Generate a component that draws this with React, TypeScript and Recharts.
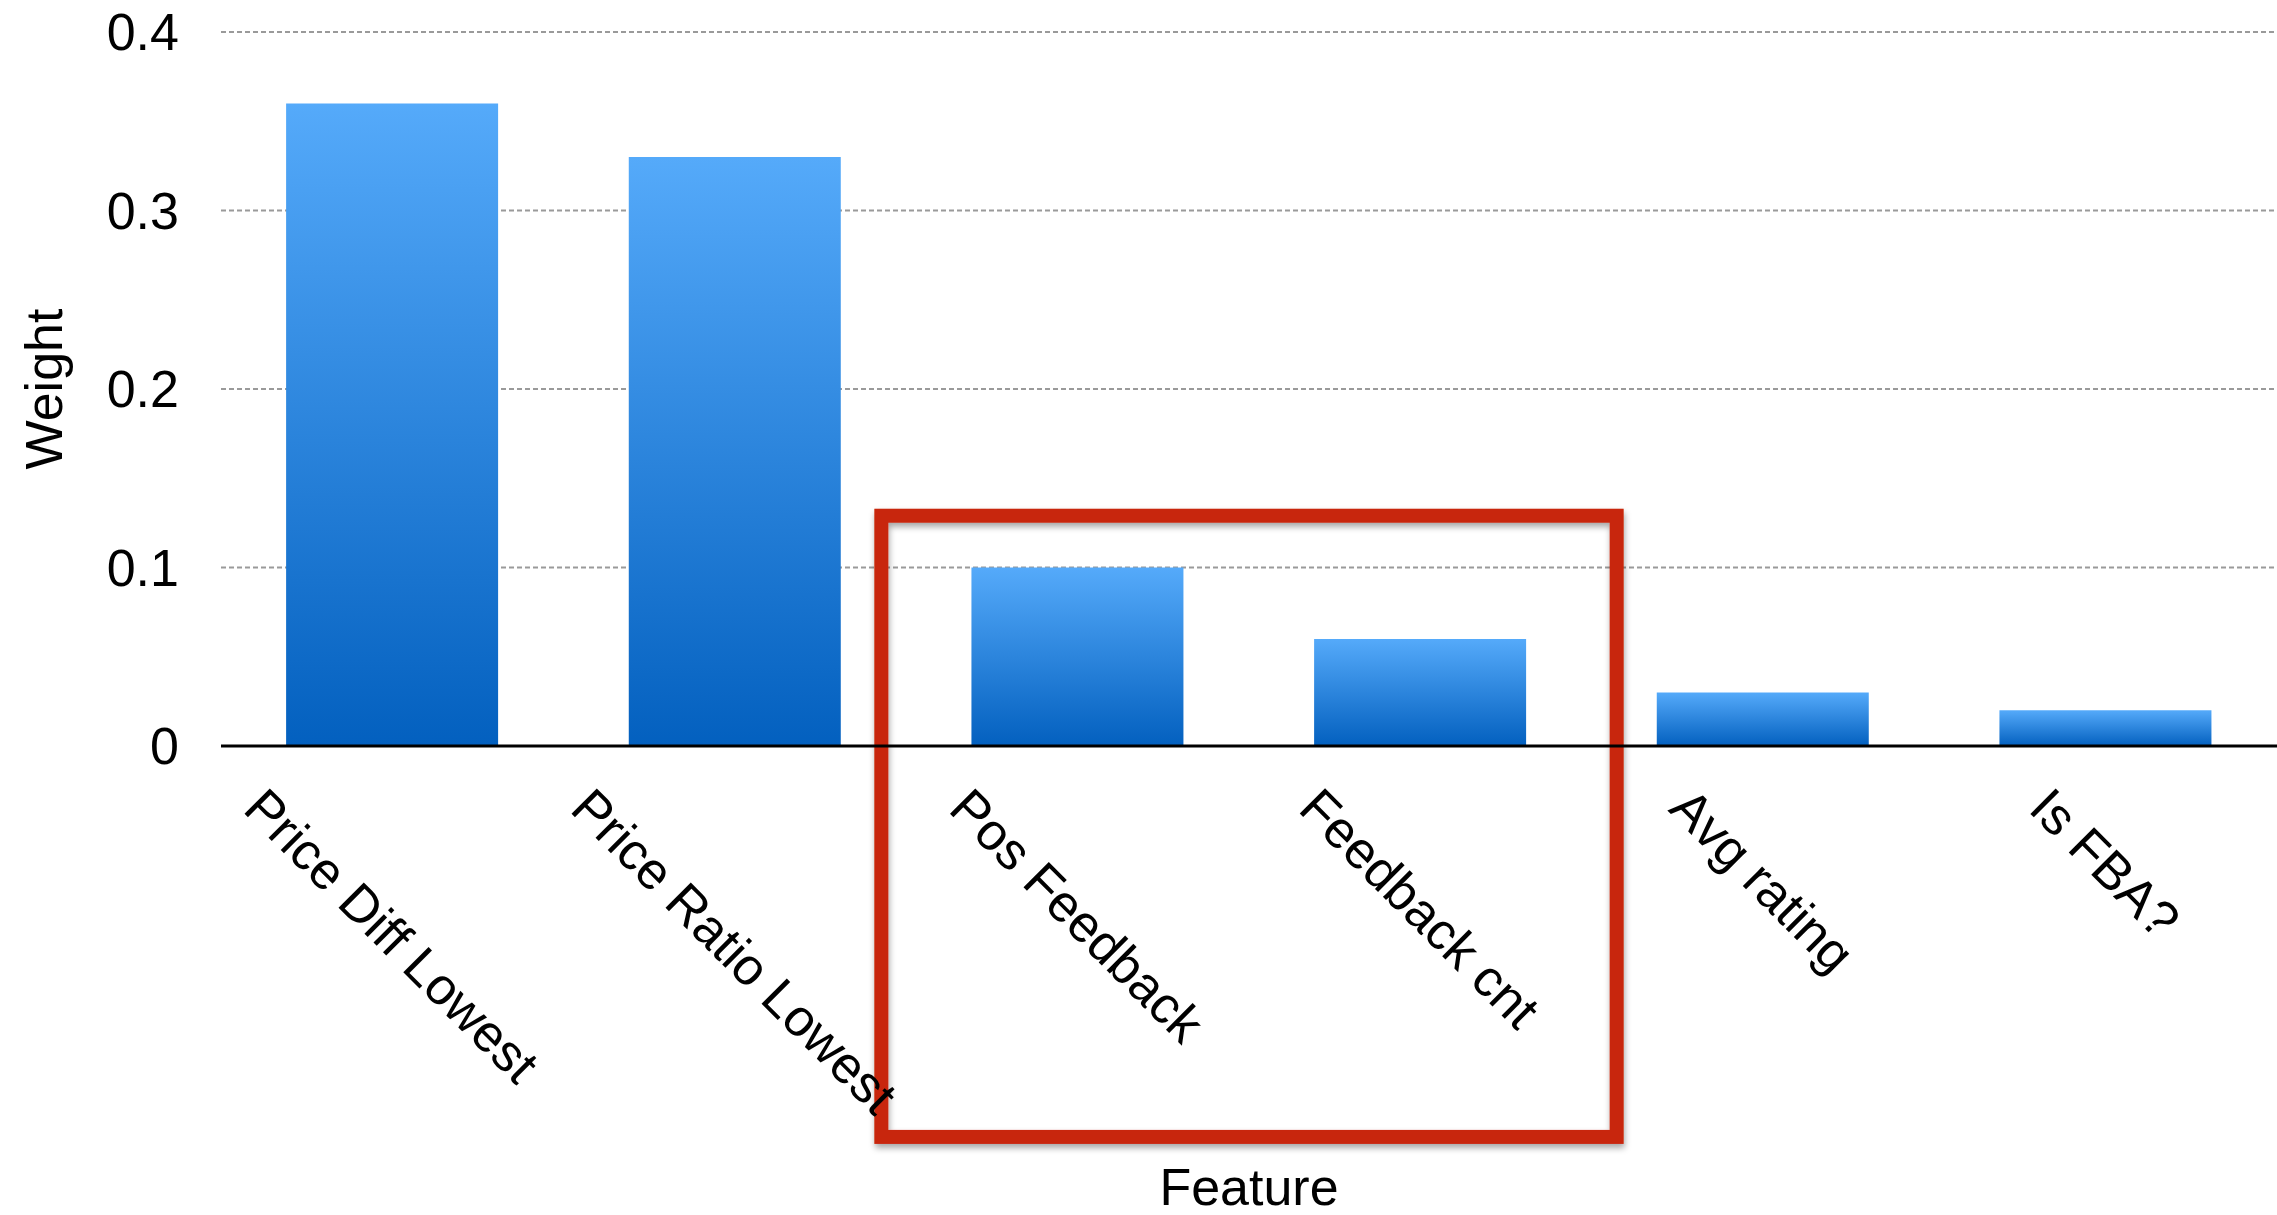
import { BarChart, Bar, XAxis, YAxis, CartesianGrid, ReferenceArea } from "recharts";

const features = ["Price Diff Lowest", "Price Ratio Lowest", "Pos Feedback", "Feedback cnt", "Avg rating", "Is FBA?"];
const weights = [0.36, 0.33, 0.1, 0.06, 0.03, 0.02];
const yTicks = [0, 0.1, 0.2, 0.3, 0.4];
const highlightFeatures = ["Pos Feedback", "Feedback cnt"];
const highlightRange = [-0.219, 0.129];

const data = features.map((feature, i) => ({ feature, weight: weights[i] }));

const FONT = "'Liberation Sans', Arial, Helvetica, sans-serif";
const FS = 52;

let ctx: CanvasRenderingContext2D | null = null;
function textWidth(s: string) {
  if (!ctx) ctx = document.createElement("canvas").getContext("2d");
  if (!ctx) return s.length * FS * 0.5;
  ctx.font = `${FS}px "Liberation Sans", Arial, sans-serif`;
  return ctx.measureText(s).width;
}

// labels run down-right at 45deg, centred on the bar, top edge level
function FeatureTick({ x, y, payload }: any) {
  const label = String(payload.value);
  const len = textWidth(label);
  const cap = FS * 0.72;
  const cy = y + 0.354 * (len + cap);
  return (
    <text x={x} y={cy} dy={cap / 2} textAnchor="middle" transform={`rotate(45, ${x}, ${cy})`}
      fontFamily={FONT} fontSize={FS} fill="#000">{label}</text>
  );
}

function WeightLabel({ viewBox }: any) {
  const vb = viewBox || { x: 0, y: 32, width: 221, height: 714 };
  const x = vb.x + 62;
  const y = vb.y + vb.height / 2;
  return (
    <text x={x} y={y} textAnchor="middle" transform={`rotate(-90, ${x}, ${y})`}
      fontFamily={FONT} fontSize={FS} fill="#000">Weight</text>
  );
}

function FeatureLabel({ viewBox }: any) {
  const vb = viewBox || { x: 221, y: 746, width: 2056, height: 469 };
  return (
    <text x={vb.x + vb.width / 2} y={vb.y + vb.height - 10} textAnchor="middle"
      fontFamily={FONT} fontSize={FS} fill="#000">Feature</text>
  );
}

function HighlightBox({ x, y, width, height }: any) {
  const pad = 25;
  return (
    <rect x={x - pad} y={y} width={width + pad * 2} height={height} fill="none"
      stroke="#C8260A" strokeWidth={14} filter="url(#boxShadow)" />
  );
}

export default function App() {
  return (
    <div style={{ position: "absolute", left: 0, top: 0, background: "#fff" }}>
      <BarChart width={2277} height={1215} data={data} barCategoryGap="19%"
        margin={{ top: 32, right: 0, bottom: 0, left: 0 }}>
        <defs>
          <linearGradient id="barGrad" x1="0" y1="0" x2="0" y2="1">
            <stop offset="0%" stopColor="#55AAFA" />
            <stop offset="100%" stopColor="#0360BF" />
          </linearGradient>
          <filter id="boxShadow" x="-5%" y="-5%" width="110%" height="115%">
            <feDropShadow dx="1" dy="4" stdDeviation="3" floodColor="#000" floodOpacity="0.35" />
          </filter>
        </defs>
        <CartesianGrid vertical={false} stroke="#9a9a9a" strokeDasharray="5 3" strokeWidth={2} />
        <XAxis dataKey="feature" interval={0} tickLine={false} height={469} tickMargin={32}
          axisLine={{ stroke: "#000", strokeWidth: 3 }} tick={<FeatureTick />} label={<FeatureLabel />} />
        <YAxis domain={[0, 0.4]} ticks={yTicks} width={221} axisLine={false} tickLine={false} tickMargin={36}
          tickFormatter={(v) => String(v)} tick={{ fontSize: FS, fill: "#000", fontFamily: FONT }}
          label={<WeightLabel />} />
        <Bar dataKey="weight" fill="url(#barGrad)" isAnimationActive={false} />
        <ReferenceArea x1={highlightFeatures[0]} x2={highlightFeatures[1]} y1={highlightRange[0]} y2={highlightRange[1]}
          ifOverflow="visible" shape={<HighlightBox />} />
      </BarChart>
    </div>
  );
}
